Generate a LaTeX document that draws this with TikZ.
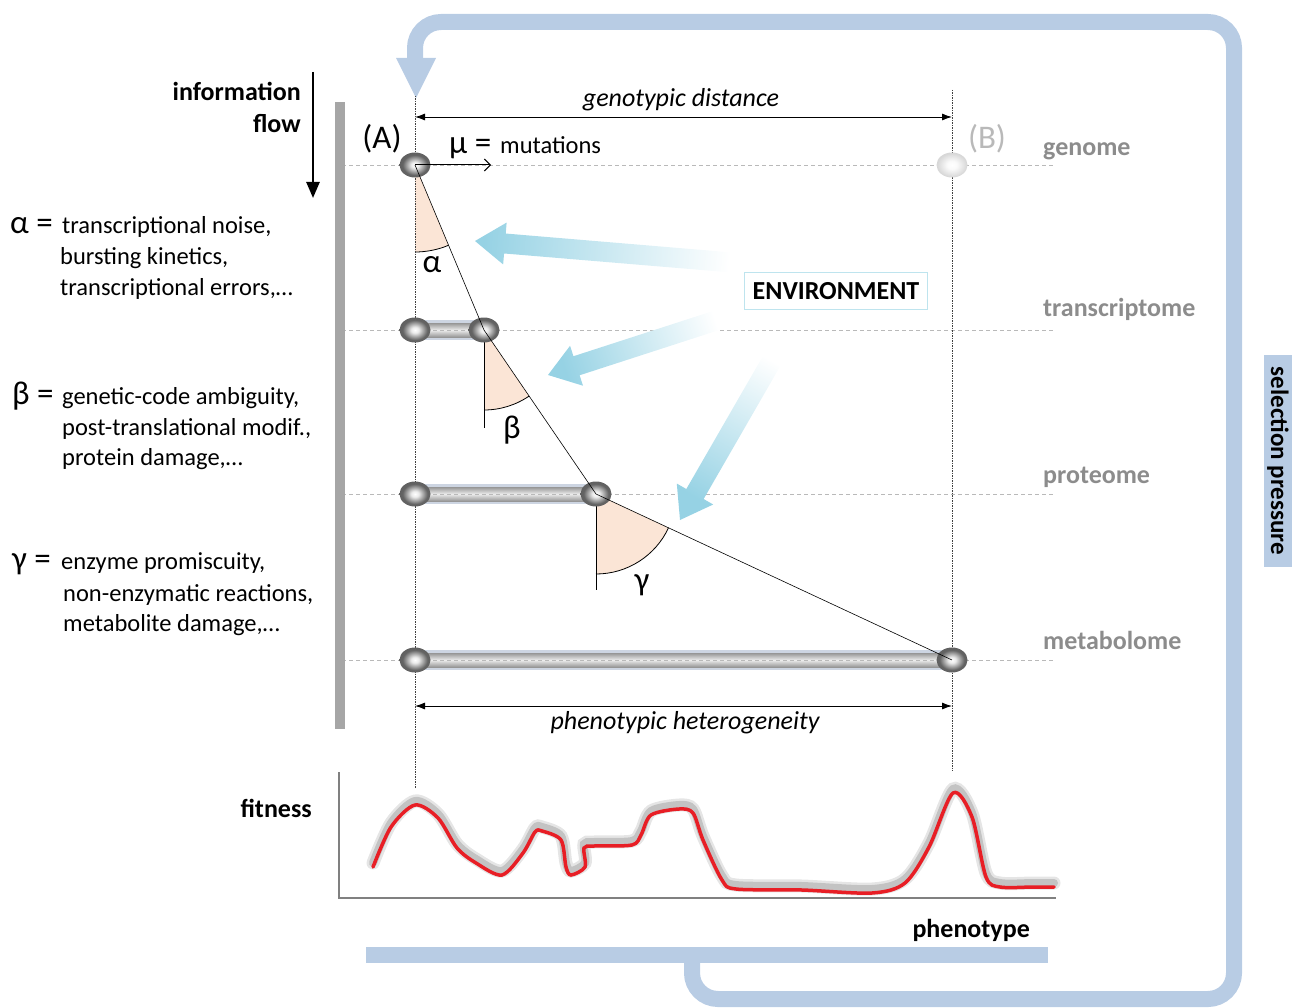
\documentclass[tikz,border=0pt]{standalone}
\usepackage{fontspec}
\setmainfont{Carlito}
\usetikzlibrary{shapes.geometric,arrows.meta,calc,backgrounds}

\definecolor{loopblue}{RGB}{184,204,228}
\definecolor{envblue}{RGB}{150,210,228}
\definecolor{envframe}{RGB}{190,228,238}
\definecolor{layergray}{RGB}{140,140,140}
\definecolor{bargray}{RGB}{166,166,166}
\definecolor{axisgray}{RGB}{128,128,128}
\definecolor{wedgefill}{RGB}{251,229,214}
\definecolor{tubeblue}{RGB}{205,213,226}
\definecolor{tubegray}{RGB}{150,150,150}
\definecolor{curvered}{RGB}{232,30,37}
\definecolor{cellhi}{RGB}{235,235,235}
\definecolor{cellgray}{RGB}{100,100,100}
\definecolor{cellrim}{RGB}{75,75,75}
\definecolor{ghosthi}{RGB}{250,250,250}
\definecolor{ghostgray}{RGB}{215,215,215}

\pgfdeclareradialshading{cellball}{\pgfpoint{0bp}{0bp}}{color(0bp)=(white); color(6bp)=(cellhi); color(20bp)=(cellgray); color(50bp)=(cellrim)}
\pgfdeclareradialshading{ghostball}{\pgfpoint{0bp}{0bp}}{color(0bp)=(white); color(8bp)=(ghosthi); color(24bp)=(ghostgray); color(50bp)=(ghostgray)}

\tikzset{
  cell/.style={ellipse, minimum width=31pt, minimum height=25pt, inner sep=0pt, shade, shading=cellball},
  ghost/.style={cell, shading=ghostball},
  guide/.style={gray!55, line width=0.6pt, dash pattern=on 4pt off 3pt},
  dotline/.style={black!75, line width=0.7pt, dash pattern=on 1.5pt off 1pt},
  loopline/.style={loopblue, line width=16pt},
  listtxt/.style={font=\fontsize{24.5}{28}\selectfont, inner sep=0pt},
  greek/.style={font=\fontsize{33}{36}\selectfont, inner sep=0pt},
  boldtxt/.style={font=\bfseries\fontsize{26}{32}\selectfont, inner sep=0pt},
  layer/.style={font=\bfseries\fontsize{26}{30}\selectfont, text=layergray, inner sep=0pt, anchor=west},
  ital/.style={font=\itshape\fontsize{26}{30}\selectfont, inner sep=0pt},
  span/.style={{Latex[length=10pt,width=7pt]}-{Latex[length=10pt,width=7pt]}, line width=0.9pt},
}

% blue arrow from the environment: tip, tail, shading angle
\newcommand{\envarrow}[3]{%
  \shade[top color=white, bottom color=envblue, shading angle=#3]
    (#1) -- ($(#1)!30pt!(#2)!21pt!90:(#2)$) -- ($(#1)!30pt!(#2)!10pt!90:(#2)$)
    -- ($(#2)!10pt!-90:(#1)$) -- ($(#2)!10pt!90:(#1)$)
    -- ($(#1)!30pt!(#2)!10pt!-90:(#2)$) -- ($(#1)!30pt!(#2)!21pt!-90:(#2)$) -- cycle;}

\begin{document}
\begin{tikzpicture}[x=1pt, y=-1pt]
\useasboundingbox (0,0) rectangle (1292,1008);

%selection loop
\draw[loopline] (366,955) -- (1048,955);
\draw[loopline, rounded corners=26pt] (692,955) -- (692,999) -- (1234,999) -- (1234,22) -- (415,22) -- (415,62);
\fill[loopblue] (396,58) -- (436,58) -- (416,98) -- cycle;
\node[fill=loopblue, rotate=-90, minimum width=212pt, minimum height=28pt, inner sep=0pt,
  font=\bfseries\fontsize{25}{28}\selectfont] (sel) at (1278,461) {selection pressure};

%levels
\foreach \name/\yy/\ly in {genome/165/151, transcriptome/330/309, proteome/494/477, metabolome/660/640}
{
  \draw[guide] (342,\yy) -- (1053,\yy);
  \node[layer] (l\name) at (1043,\ly) {\name};
}
\draw[dotline] (415,96) -- (415,788);
\draw[dotline] (952,90) -- (952,771);

%information flow
\fill[bargray] (335,102) rectangle (345,729);
\coordinate (flowtop) at (313,72);
\coordinate (flowbot) at (313,198);
\draw[-{Triangle[length=16pt,width=13pt]}, line width=2.5pt] (flowtop) -- (flowbot);
\node[boldtxt, align=right, anchor=east] (info) at (301,107) {information\\flow};

%cells
\node[cell] (gA) at (415,165) {};
\node[ghost] (gB) at (952,165) {};
\node[cell] (tA) at (415,330) {};
\node[cell] (tB) at (484,330) {};
\node[cell] (pA) at (415,494) {};
\node[cell] (pB) at (596,494) {};
\node[cell] (mA) at (415,660) {};
\node[cell] (mB) at (952,660) {};

\begin{pgfonlayer}{background}
  % angles
  \fill[wedgefill] (gA.center) -- ++(90:87) arc[start angle=90, end angle=67.3, radius=87] -- cycle;
  \draw[line width=0.8pt] (gA.center) ++(90:87) arc[start angle=90, end angle=67.3, radius=87];
  \fill[wedgefill] (tB.center) -- ++(90:80) arc[start angle=90, end angle=55.7, radius=80] -- cycle;
  \draw[line width=0.8pt] (tB.center) ++(90:80) arc[start angle=90, end angle=55.7, radius=80];
  \fill[wedgefill] (pB.center) -- ++(90:80) arc[start angle=90, end angle=25, radius=80] -- cycle;
  \draw[line width=0.8pt] (pB.center) ++(90:80) arc[start angle=90, end angle=25, radius=80];
  \draw[line width=0.6pt] (tB.center) -- ++(0,98);
  \draw[line width=0.6pt] (pB.center) -- ++(0,96);
  % tubes
  \foreach \a/\b in {tA/tB, pA/pB, mA/mB}
  {
    \fill[tubeblue] ($(\a.center)+(0,-10)$) rectangle ($(\b.center)+(0,10)$);
    \shade[top color=tubegray, bottom color=tubegray, middle color=white!85!gray]
      ($(\a.center)+(0,-7)$) rectangle ($(\b.center)+(0,7)$);
  }
\end{pgfonlayer}

\draw[line width=0.6pt] (gA.center) -- (tB.center) -- (pB.center) -- (mB.center);

\node[greek] (alab) at (432,265) {α};
\node[greek] (blab) at (512,430) {β};
\node[greek] (clab) at (642,585) {γ};

%labels A, B, mu
\node[greek] (Alab) at (382,139) {(A)};
\node[greek, text=gray!55] (Blab) at (987,139) {(B)};
\coordinate (muend) at (491,165);
\draw[-{Straight Barb[length=6pt,width=12pt]}, line width=1pt] (gA.center) -- (muend);
\node[greek, anchor=base west] (mu) at (449,154) {μ =};
\node[listtxt, anchor=base west] (mutxt) at (500,154) {mutations};

%distances
\coordinate (gdL) at (415,117);
\coordinate (gdR) at (952,117);
\draw[span] (gdL) -- (gdR);
\node[ital] (gdist) at (681,100) {genotypic distance};
\coordinate (phL) at (415,706);
\coordinate (phR) at (952,706);
\draw[span] (phL) -- (phR);
\node[ital] (phet) at (685,723) {phenotypic heterogeneity};

%environment
\node[draw=envframe, line width=1pt, minimum width=183pt, minimum height=37pt, inner sep=0pt,
  font=\bfseries\fontsize{26}{30}\selectfont] (env) at (836,291) {ENVIRONMENT};
\coordinate (tip1) at (475,241);
\coordinate (tail1) at (738,263);
\coordinate (tip2) at (548,375);
\coordinate (tail2) at (730,316);
\coordinate (tip3) at (680,520);
\coordinate (tail3) at (782,343);
\envarrow{tip1}{tail1}{-94.8}
\envarrow{tip2}{tail2}{-71.9}
\envarrow{tip3}{tail3}{-29.8}

%left texts
\node[greek, anchor=base west] (ga) at (10,234) {α =};
\node[listtxt, anchor=base west] (ga1) at (62,234) {transcriptional noise,};
\node[listtxt, anchor=base west] (ga2) at (60,265) {bursting kinetics,};
\node[listtxt, anchor=base west] (ga3) at (60,295) {transcriptional errors,…};
\node[greek, anchor=base west] (gb) at (12,404) {β =};
\node[listtxt, anchor=base west] (gb1) at (62,404) {genetic-code ambiguity,};
\node[listtxt, anchor=base west] (gb2) at (62,435) {post-translational modif.,};
\node[listtxt, anchor=base west] (gb3) at (62,465) {protein damage,…};
\node[greek, anchor=base west] (gc) at (12,569) {γ =};
\node[listtxt, anchor=base west] (gc1) at (61,569) {enzyme promiscuity,};
\node[listtxt, anchor=base west] (gc2) at (63,601) {non-enzymatic reactions,};
\node[listtxt, anchor=base west] (gc3) at (63,631) {metabolite damage,…};

%fitness landscape
\coordinate (ytop) at (339,772);
\coordinate (orig) at (339,898);
\coordinate (xend) at (1056,898);
\draw[axisgray, line width=2.5pt] (ytop) -- (orig) -- (xend);
\node[boldtxt, anchor=east] (fit) at (312,808) {fitness};
\node[boldtxt, anchor=east] (phen) at (1030,930) {phenotype};
\tikzset{fitness curve/.style={insert path={plot[smooth, tension=0.5] coordinates {
  (373,867) (391,827) (415,805) (438,818) (457,848) (476,863) (502,875) (523,853)
  (535,832) (542,831) (561,840) (566,867) (571,875) (585,867) (584,848) (594,846)
  (632,845) (641,835) (651,815) (679,809) (693,813) (703,840) (722,880) (736,889)
  (802,890) (872,893) (905,883) (929,847) (953,793) (972,817) (986,877) (1000,887)
  (1033,887) (1054,887)}}}}
\begin{scope}[yshift=4pt]
  \draw[black, opacity=0.1, line width=13pt, line cap=round, fitness curve];
  \draw[black, opacity=0.15, line width=8pt, line cap=round, fitness curve];
\end{scope}
\draw[curvered, line width=3.5pt, line cap=round, fitness curve];

\end{tikzpicture}
\end{document}
